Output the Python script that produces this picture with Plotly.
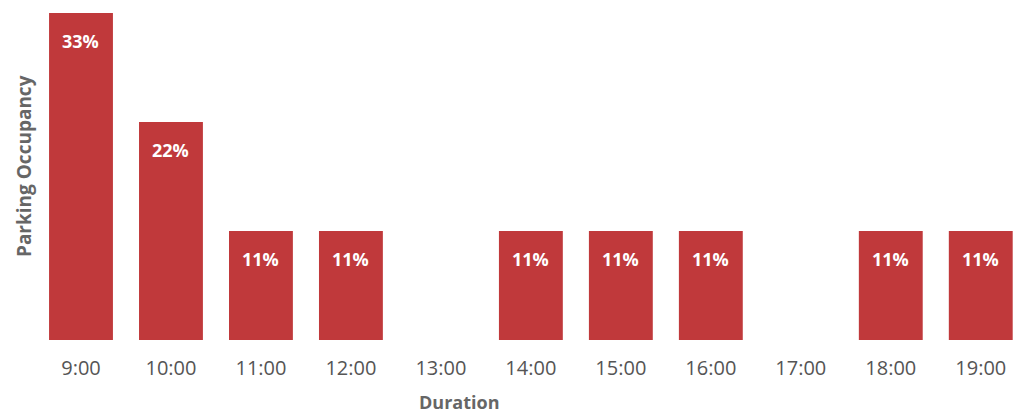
import plotly.graph_objects as go

categories = ["9:00", "10:00", "11:00", "12:00", "13:00", "14:00", "15:00", "16:00", "17:00", "18:00", "19:00"]
occupancy = [33, 22, 11, 11, 0, 11, 11, 11, 0, 11, 11]

bar_color = "#C0393B"
font_family = "Open Sans, Noto Sans, sans-serif"

fig = go.Figure()
fig.add_trace(go.Bar(
    x=categories, y=occupancy,
    marker=dict(color=bar_color, line=dict(width=0)),
    hoverinfo="skip",
))

for c, v in zip(categories, occupancy):
    if v > 0:
        fig.add_annotation(x=c, y=v, xref="x", yref="y", text=f"<b>{v}%</b>",
                           showarrow=False, yshift=-28,
                           font=dict(family=font_family, size=18, color="white"))

fig.add_annotation(x=0.43, y=-0.19, xref="paper", yref="paper", text="<b>Duration</b>",
                   showarrow=False, yanchor="middle",
                   font=dict(family=font_family, size=18, color="#666666"))
fig.add_annotation(x=-0.0, xshift=-12, y=0.532, xref="paper", yref="paper",
                   text="<b>Parking Occupancy</b>", textangle=-90,
                   showarrow=False, xanchor="center", yanchor="middle",
                   font=dict(family=font_family, size=19, color="#666666"))

fig.update_layout(
    width=1019, height=414,
    margin=dict(l=36, r=0, t=13, b=74),
    plot_bgcolor="white", paper_bgcolor="white",
    bargap=0.29, showlegend=False,
    xaxis=dict(type="category", range=[-0.5, 10.425], showgrid=False, zeroline=False,
               showline=False, ticks="outside", ticklen=10, tickcolor="rgba(0,0,0,0)",
               tickfont=dict(family=font_family, size=20, color="#555555")),
    yaxis=dict(range=[0, 33], showgrid=False, zeroline=False, showline=False,
               showticklabels=False, ticks=""),
)

fig.write_html("out.html")
